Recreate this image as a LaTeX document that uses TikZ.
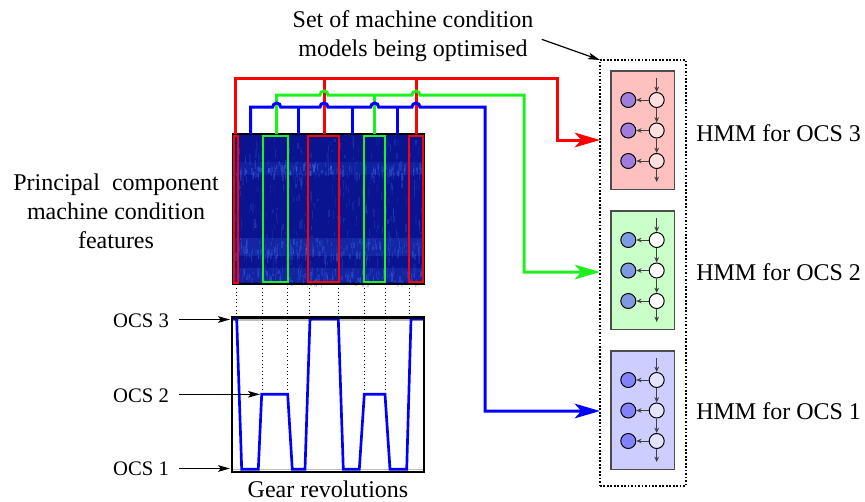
\documentclass[tikz,border=0pt]{standalone}
\usepackage{fontspec}
\setmainfont{LiberationSerif}[Extension=.ttf, UprightFont=*-Regular, BoldFont=*-Bold, ItalicFont=*-Italic, BoldItalicFont=*-BoldItalic]
\usetikzlibrary{arrows.meta,calc}
\definecolor{wred}{RGB}{255,0,0}
\definecolor{wgreen}{RGB}{30,240,30}
\definecolor{wblue}{RGB}{0,0,255}
\definecolor{specbg}{RGB}{10,20,145}
\definecolor{specstreak}{RGB}{60,105,235}
\definecolor{rbox}{RGB}{255,192,192}
\definecolor{rhid}{RGB}{255,224,224}
\definecolor{robs}{RGB}{160,125,220}
\definecolor{gbox}{RGB}{202,255,202}
\definecolor{ghid}{RGB}{255,255,255}
\definecolor{gobs}{RGB}{125,155,225}
\definecolor{bbox}{RGB}{205,205,255}
\definecolor{bhid}{RGB}{228,228,255}
\definecolor{bobs}{RGB}{130,130,255}
\tikzset{
  lbl/.style={inner sep=0pt, font=\fontsize{18}{21.75}\selectfont},
  ocslbl/.style={inner sep=0pt, font=\fontsize{15.5}{18}\selectfont},
  wire/.style={line width=2.25pt},
  bigtip/.style={-{Stealth[length=19pt,width=11pt,inset=5pt]}},
  blackarr/.style={line width=0.9pt,-{Stealth[length=9pt,width=5pt,inset=2pt]}},
  hmmbox/.style={draw=black!70, line width=0.8pt, minimum width=47.5pt, minimum height=88.7pt, inner sep=0pt, outer sep=0pt},
  state/.style={circle, draw=black, line width=0.75pt, minimum size=11.25pt, inner sep=0pt},
  small/.style={draw=black!75, line width=0.75pt, -{Stealth[length=4pt,width=3.5pt]}},
  segrect/.style={line width=1.5pt},
  dotv/.style={line width=0.7pt, dash pattern=on 0.7pt off 2pt},
}
\newcommand\hmmblock[5]{%
  \node[hmmbox, fill=#3, anchor=north west] (#1) at (611,#2) {};
  \foreach \k/\dy in {1/29,2/59.5,3/90}{
    \node[state, fill=#4] (#1-h\k) at (656.7,#2+\dy) {};
    \node[state, fill=#5] (#1-o\k) at (628.3,#2+\dy) {};
    \draw[small] (#1-h\k) -- (#1-o\k);
  }
  \coordinate (#1-in) at (656.7,#2+7);
  \coordinate (#1-out) at (656.7,#2+111);
  \draw[small] (#1-in) -- (#1-h1);
  \draw[small] (#1-h1) -- (#1-h2);
  \draw[small] (#1-h2) -- (#1-h3);
  \draw[small] (#1-h3) -- (#1-out);
}
\begin{document}
\begin{tikzpicture}[x=0.75pt,y=-0.75pt]
\useasboundingbox (0,0) rectangle (865,501);

% ---------- spectrogram texture ----------
\fill[specbg] (233,134) rectangle (424,284);
\fill[specstreak,opacity=0.15] (233,162) rectangle (424,175);
\fill[specstreak,opacity=0.22] (233,238) rectangle (424,256);
\fill[specstreak,opacity=0.18] (233,268) rectangle (424,282);
\pgfmathsetseed{12345}
\foreach \i in {1,...,380}{
  \pgfmathsetmacro\sx{234+rnd*188}
  \pgfmathsetmacro\sy{136+rnd*140}
  \pgfmathsetmacro\sh{2+rnd*9}
  \pgfmathsetmacro\so{0.08+rnd*0.22}
  \fill[specstreak,opacity=\so] (\sx,\sy) rectangle ++(1.3,\sh);
}
\foreach \by/\bh in {162/12,238/18,268/14}{
  \foreach \i in {1,...,160}{
    \pgfmathsetmacro\sx{234+rnd*188}
    \pgfmathsetmacro\sy{\by+rnd*\bh}
    \pgfmathsetmacro\sh{2+rnd*6}
    \pgfmathsetmacro\so{0.12+rnd*0.3}
    \fill[specstreak,opacity=\so] (\sx,\sy) rectangle ++(1.3,\sh);
  }
}
\node[draw=black, line width=1.5pt, minimum width=143.25pt, minimum height=112.5pt, inner sep=0pt, outer sep=0pt, anchor=north west] (spec) at (233,134) {};

% segment rectangles
\draw[segrect, wred] (233.5,136) rectangle (238,283);
\draw[segrect, wgreen] (263,136) rectangle (288,282);
\draw[segrect, wred] (308,136) rectangle (339,282);
\draw[segrect, wgreen] (364,136) rectangle (385,282);
\draw[segrect, wred] (409,136) rectangle (423,282);

% ---------- models box ----------
\node[draw=black, line width=1.1pt, dash pattern=on 1.3pt off 1.3pt, minimum width=64.5pt, minimum height=319.5pt, inner sep=0pt, outer sep=0pt, anchor=north west] (models) at (600,60) {};
\hmmblock{hA}{71}{rbox}{rhid}{robs}
\hmmblock{hB}{211}{gbox}{ghid}{gobs}
\hmmblock{hC}{351}{bbox}{bhid}{bobs}

\node[lbl, anchor=west] (lA) at (696,133) {HMM for OCS 3};
\node[lbl, anchor=west] (lB) at (696,272) {HMM for OCS 2};
\node[lbl, anchor=west] (lC) at (696,411) {HMM for OCS 1};

\coordinate (inA) at (600,140);
\coordinate (inB) at (600,272);
\coordinate (inC) at (600,411);

% ---------- wires ----------
% red
\draw[wire, wred] (324,134) -- (324,78);
\draw[wire, wred] (416,134) -- (416,78);
\draw[wire, wred, bigtip] (235.7,134) -- (235.7,78) -- (557.5,78) -- (557.5,140) -- (inA);
% green
\draw[wire, wgreen] (374.7,134) -- (374.7,95);
\draw[wire, wgreen, bigtip] (276.7,134) -- (276.7,95) -- (320,95)
   arc[start angle=180,end angle=0,radius=3pt] -- (412,95)
   arc[start angle=180,end angle=0,radius=3pt] -- (524,95) -- (524,272) -- (inB);
% blue
\draw[wire, wblue] (298,134) -- (298,107);
\draw[wire, wblue] (352,134) -- (352,107);
\draw[wire, wblue] (397.7,134) -- (397.7,107);
\draw[wire, wblue, bigtip] (250.7,134) -- (250.7,107) -- (272.7,107)
   arc[start angle=180,end angle=0,radius=3pt] -- (320,107)
   arc[start angle=180,end angle=0,radius=3pt] -- (370.7,107)
   arc[start angle=180,end angle=0,radius=3pt] -- (412,107)
   arc[start angle=180,end angle=0,radius=3pt] -- (485,107) -- (485,411) -- (inC);

% ---------- OCS plot ----------
\node[draw=black, line width=1.8pt, minimum width=144pt, minimum height=115.8pt, inner sep=0pt, outer sep=0pt, anchor=north west] (plot) at (232,317.3) {};
\draw[black!25, line width=0.8pt] (233,320) -- (423,320);
\draw[black!25, line width=0.8pt] (233,469.5) -- (423,469.5);
\foreach \xx in {236.7,309,338.3,409.3}{
  \draw[dotv] (\xx,288) -- (\xx,316);
}
\foreach \xx in {262.3,287.7,364.3,385.3}{
  \draw[dotv] (\xx,288) -- (\xx,392);
}
\draw[wblue, line width=2pt, line join=miter] (232.5,319) -- (236.7,319) -- (241.7,469.3) -- (258.3,469.3)
  -- (261.7,394.3) -- (287.7,394.3) -- (292.3,469.3) -- (305,469.3)
  -- (310,319) -- (338.3,319) -- (343.3,469.3) -- (359.3,469.3)
  -- (364.3,394.3) -- (385,394.3) -- (390,469.3) -- (406.7,469.3)
  -- (411,319) -- (423,319);
\node[draw=black, line width=1.8pt, minimum width=144pt, minimum height=115.8pt, inner sep=0pt, outer sep=0pt, anchor=north west] at (232,317.3) {};

\node[ocslbl] (o3) at (141,321) {OCS 3};
\node[ocslbl] (o2) at (141,396) {OCS 2};
\node[ocslbl] (o1) at (141,469) {OCS 1};
\coordinate (t3) at (230,319.5);
\coordinate (t2) at (260,394.3);
\coordinate (t1) at (230,468.5);
\draw[blackarr] (o3.east |- t3) ++(10,0) -- (t3);
\draw[blackarr] (o2.east |- t2) ++(10,0) -- (t2);
\draw[blackarr] (o1.east |- t1) ++(10,0) -- (t1);

\node[lbl] (gear) at (328,489) {Gear revolutions};

% ---------- other labels ----------
\node[lbl, align=center] (feat) at (116,211) {Principal\ \ component\\machine condition\\features};
\node[lbl, align=center] (setlbl) at (413,36) {Set of machine condition\\models being optimised};
\coordinate (setstart) at (541.7,39.3);
\draw[line width=0.9pt,-{Stealth[length=9pt,width=5pt,inset=2pt]}] (setstart) -- (models.north west);
\end{tikzpicture}
\end{document}
